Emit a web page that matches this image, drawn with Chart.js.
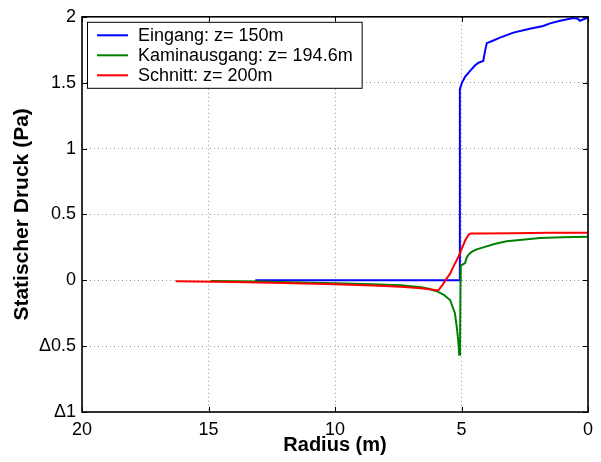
<!DOCTYPE html>
<html>
<head>
<meta charset="utf-8">
<script src="https://cdn.jsdelivr.net/npm/chart.js@4/dist/chart.umd.min.js"></script>
<style>
  html, body { margin: 0; padding: 0; background: #fff; }
  #wrap { width: 601px; height: 462px; }
</style>
</head>
<body>
<div id="wrap"><canvas id="c" width="601" height="462"></canvas></div>
<script>
// Static pressure profiles along the radius at three heights
const seriesNames = ['Eingang: z= 150m', 'Kaminausgang: z= 194.6m', 'Schnitt: z= 200m'];
const seriesColors = ['#0000ff', '#008000', '#ff0000'];

const eingangR = [13.15, 5.09, 5.07, 5.06, 4.98, 4.86, 4.66, 4.47, 4.34, 4.14, 4.08, 4.0, 3.74, 3.5, 2.95, 2.3, 1.77, 1.5, 1.1, 0.58, 0.4, 0.32, 0.05, 0.0];
const eingangP = [0.0, 0.0, 0.72, 1.45, 1.5, 1.545, 1.59, 1.63, 1.65, 1.665, 1.73, 1.80, 1.82, 1.84, 1.88, 1.91, 1.93, 1.95, 1.97, 1.99, 1.985, 1.97, 1.99, 1.99];

const kaminR = [14.9, 13.0, 11.4, 10.0, 8.5, 7.4, 6.6, 6.3, 5.98, 5.7, 5.45, 5.26, 5.17, 5.12, 5.09, 5.06, 5.04, 5.03, 4.95, 4.86, 4.8, 4.72, 4.6, 4.4, 4.14, 3.7, 3.22, 2.6, 1.9, 1.0, 0.0];
const kaminP = [-0.005, -0.01, -0.017, -0.022, -0.03, -0.038, -0.052, -0.065, -0.083, -0.11, -0.15, -0.25, -0.38, -0.48, -0.565, -0.56, 0.0, 0.11, 0.12, 0.13, 0.17, 0.195, 0.215, 0.235, 0.25, 0.275, 0.296, 0.308, 0.32, 0.327, 0.33];

const schnittR = [16.3, 14.0, 12.0, 10.0, 8.5, 7.4, 6.6, 6.2, 5.92, 5.75, 5.59, 5.45, 5.33, 5.13, 4.86, 4.72, 4.64, 4.3, 3.0, 1.5, 0.0];
const schnittP = [-0.008, -0.013, -0.02, -0.03, -0.04, -0.05, -0.06, -0.07, -0.078, -0.035, 0.013, 0.05, 0.1, 0.175, 0.3, 0.345, 0.355, 0.355, 0.357, 0.36, 0.36];

const xTickValues = [0, 5, 10, 15, 20];
const yTickValues = [-1, -0.5, 0, 0.5, 1, 1.5, 2];

const FONT = '"Liberation Sans", Arial, Helvetica, sans-serif';

function pairs(xs, ys) { return xs.map((x, i) => ({ x: x, y: ys[i] })); }

// Box around the plot area with inward ticks on all four sides
const frameAndTicks = {
  id: 'frameAndTicks',
  afterDatasetsDraw(chart) {
    const { ctx, chartArea: a, scales } = chart;
    const len = 5;
    ctx.save();
    ctx.strokeStyle = '#000';
    ctx.lineWidth = 1;
    ctx.beginPath();
    xTickValues.forEach(v => {
      const px = Math.round(scales.x.getPixelForValue(v)) + 0.5;
      ctx.moveTo(px, a.bottom); ctx.lineTo(px, a.bottom - len);
      ctx.moveTo(px, a.top); ctx.lineTo(px, a.top + len);
    });
    yTickValues.forEach(v => {
      const py = Math.round(scales.y.getPixelForValue(v)) + 0.5;
      ctx.moveTo(a.left, py); ctx.lineTo(a.left + len, py);
      ctx.moveTo(a.right, py); ctx.lineTo(a.right - len, py);
    });
    ctx.stroke();
    ctx.lineWidth = 1.6;
    ctx.strokeRect(a.left, a.top, a.right - a.left, a.bottom - a.top);
    ctx.restore();
  }
};

// Legend box in the upper left corner of the plot area
const boxLegend = {
  id: 'boxLegend',
  afterDatasetsDraw(chart) {
    const { ctx, chartArea: a } = chart;
    const x0 = a.left + 5, y0 = a.top + 5;
    const rowH = 20;
    ctx.save();
    ctx.font = '18px ' + FONT;
    let maxW = 0;
    chart.data.datasets.forEach(d => { maxW = Math.max(maxW, ctx.measureText(d.label).width); });
    const w = 51 + maxW + 9;
    const h = 66;
    ctx.fillStyle = '#fff';
    ctx.fillRect(x0, y0, w, h);
    ctx.strokeStyle = '#000';
    ctx.lineWidth = 1;
    ctx.strokeRect(x0 + 0.5, y0 + 0.5, w, h);
    chart.data.datasets.forEach((d, i) => {
      const cy = y0 + 13.5 + i * rowH;
      ctx.strokeStyle = d.borderColor;
      ctx.lineWidth = 2;
      ctx.beginPath();
      ctx.moveTo(x0 + 10, cy); ctx.lineTo(x0 + 41, cy);
      ctx.stroke();
      ctx.fillStyle = '#000';
      ctx.textBaseline = 'middle';
      ctx.textAlign = 'left';
      ctx.fillText(d.label, x0 + 51, cy + 1);
    });
    ctx.restore();
  }
};

const data = {
  datasets: [
    { label: seriesNames[0], data: pairs(eingangR, eingangP), borderColor: seriesColors[0], order: 2 },
    { label: seriesNames[1], data: pairs(kaminR, kaminP), borderColor: seriesColors[1], order: 1 },
    { label: seriesNames[2], data: pairs(schnittR, schnittP), borderColor: seriesColors[2], order: 0 }
  ].map(d => Object.assign(d, {
    borderWidth: 2, pointRadius: 0, tension: 0, fill: false, backgroundColor: d.borderColor
  }))
};

new Chart(document.getElementById('c'), {
  type: 'line',
  data: data,
  options: {
    responsive: false,
    animation: false,
    events: [],
    layout: { padding: { left: 0, right: 13, top: 14, bottom: 0 } },
    plugins: { legend: { display: false }, tooltip: { enabled: false } },
    scales: {
      x: {
        type: 'linear',
        reverse: true,
        min: 0, max: 20,
        afterFit(s) { s.height = 50; },
        afterBuildTicks(s) { s.ticks = xTickValues.map(v => ({ value: v })); },
        ticks: {
          color: '#000', padding: 7, maxRotation: 0,
          font: { family: FONT, size: 18 },
          callback: v => String(v)
        },
        grid: { color: '#9a9a9a', lineWidth: 1, drawTicks: false },
        border: { display: false, dash: [1, 3] },
        title: {
          display: true, text: 'Radius (m)', color: '#000',
          font: { family: FONT, size: 20, weight: 'bold' },
          padding: { top: 0, bottom: 5 }
        }
      },
      y: {
        type: 'linear',
        min: -1, max: 2,
        afterFit(s) { s.width = 82; },
        afterBuildTicks(s) { s.ticks = yTickValues.map(v => ({ value: v })); },
        ticks: {
          color: '#000', padding: 6,
          font: { family: FONT, size: 18 },
          callback: v => (v < 0 ? '\u0394' + Math.abs(v) : String(v))
        },
        grid: { color: '#9a9a9a', lineWidth: 1, drawTicks: false },
        border: { display: false, dash: [1, 3] },
        title: {
          display: true, text: 'Statischer Druck (Pa)', color: '#000',
          font: { family: FONT, size: 21, weight: 'bold' },
          padding: { top: 10, bottom: 0 }
        }
      }
    }
  },
  plugins: [frameAndTicks, boxLegend]
});
</script>
</body>
</html>
